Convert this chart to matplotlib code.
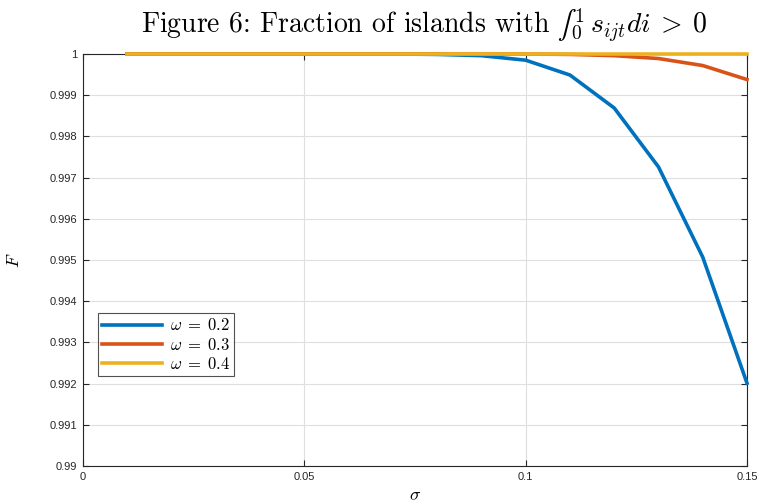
import matplotlib
matplotlib.use("Agg")

import matplotlib.pyplot as plt

# sigma grid and fraction F for each omega
sigma = [0.01, 0.02, 0.03, 0.04, 0.05, 0.06, 0.07, 0.08, 0.09, 0.10,
         0.11, 0.12, 0.13, 0.14, 0.15]
f_w02 = [1.0, 1.0, 1.0, 1.0, 1.0, 1.0, 1.0, 0.99999, 0.99996, 0.99985,
         0.99949, 0.99869, 0.99726, 0.99507, 0.99201]
f_w03 = [1.0, 1.0, 1.0, 1.0, 1.0, 1.0, 1.0, 1.0, 1.0, 1.0,
         0.99999, 0.99996, 0.99989, 0.99972, 0.99938]
f_w04 = [1.0] * 15

labels = [r"$\omega\;=\;0.2$", r"$\omega\;=\;0.3$", r"$\omega\;=\;0.4$"]
colors = ["#0072BD", "#D95319", "#EDB120"]

xticks = [0, 0.05, 0.1, 0.15]
xtick_labels = ["0", "0.05", "0.1", "0.15"]
yticks = [0.99, 0.991, 0.992, 0.993, 0.994, 0.995, 0.996, 0.997, 0.998, 0.999, 1.0]
ytick_labels = ["0.99", "0.991", "0.992", "0.993", "0.994", "0.995",
                "0.996", "0.997", "0.998", "0.999", "1"]

plt.rcParams["mathtext.fontset"] = "cm"
plt.rcParams["font.family"] = ["Liberation Sans", "DejaVu Sans"]

fig = plt.figure(figsize=(7.62, 5.04), dpi=100)
ax = fig.add_axes([83 / 762, 1 - 466 / 504, 664 / 762, 412 / 504])

for ys, lab, col in zip([f_w02, f_w03, f_w04], labels, colors):
    ax.plot(sigma, ys, color=col, lw=2.6, label=lab, clip_on=False, zorder=3)

ax.set_xlim(0, 0.15)
ax.set_ylim(0.99, 1.0)
ax.set_xticks(xticks)
ax.set_xticklabels(xtick_labels)
ax.set_yticks(yticks)
ax.set_yticklabels(ytick_labels)

ax.grid(True, color="#dfdfdf", lw=0.8)
ax.set_axisbelow(True)
ax.tick_params(direction="in", length=4, width=0.8, colors="#262626",
               labelsize=8, right=True, top=True, pad=4)
for sp in ax.spines.values():
    sp.set_color("#262626")
    sp.set_linewidth(0.8)

ax.set_xlabel(r"$\sigma$", fontsize=13, labelpad=4)
ax.set_ylabel(r"$F$", fontsize=13, labelpad=19)

title = ("Figure 6: Fraction of islands with "
         "$\u222b_0^{\\,1}\\, s_{ijt}di\\:>\\:0$")
fig.text(0.557, 0.935, title, ha="center", va="baseline", fontsize=20,
         family="cmr10")

leg = ax.legend(loc="lower left", bbox_to_anchor=(0.022, 0.218), fontsize=12,
                handlelength=3.6, frameon=True, fancybox=False,
                edgecolor="#262626", borderpad=0.25, labelspacing=0.2,
                handletextpad=0.5, borderaxespad=0)
leg.get_frame().set_linewidth(0.8)

fig.savefig("out.png", dpi=100)
